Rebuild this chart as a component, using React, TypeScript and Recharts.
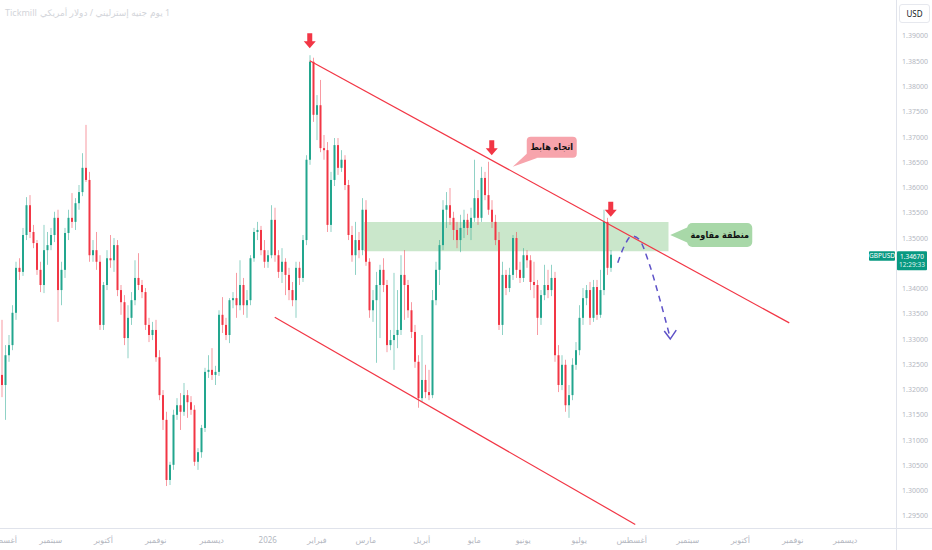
import React from 'react';
import { ComposedChart, Bar, Line, XAxis, YAxis, ReferenceLine, ReferenceArea, ReferenceDot } from 'recharts';

// daily GBPUSD candles
const opens = [
  1.3229, 1.3209, 1.3268, 1.3288, 1.3352, 1.3441, 1.3433, 1.3506, 1.3565, 1.3512,
  1.3490, 1.3437, 1.3407, 1.3476, 1.3486, 1.3506, 1.3540, 1.3397, 1.3437, 1.3510,
  1.3540, 1.3532, 1.3569, 1.3591, 1.3639, 1.3615, 1.3466, 1.3476, 1.3453, 1.3328,
  1.3407, 1.3460, 1.3456, 1.3486, 1.3397, 1.3373, 1.3302, 1.3342, 1.3377, 1.3421,
  1.3407, 1.3393, 1.3328, 1.3308, 1.3318, 1.3264, 1.3189, 1.3140, 1.3021, 1.3051,
  1.3150, 1.3169, 1.3156, 1.3189, 1.3175, 1.3160, 1.3057, 1.3076, 1.3124, 1.3235,
  1.3239, 1.3229, 1.3235, 1.3348, 1.3328, 1.3308, 1.3377, 1.3381, 1.3367, 1.3407,
  1.3367, 1.3377, 1.3460, 1.3512, 1.3516, 1.3476, 1.3453, 1.3466, 1.3536, 1.3466,
  1.3433, 1.3453, 1.3427, 1.3397, 1.3377, 1.3441, 1.3421, 1.3496, 1.3655, 1.3849,
  1.3744, 1.3763, 1.3678, 1.3674, 1.3526, 1.3615, 1.3684, 1.3639, 1.3655, 1.3605,
  1.3506, 1.3466, 1.3496, 1.3476, 1.3556, 1.3453, 1.3357, 1.3377, 1.3407, 1.3437,
  1.3407, 1.3288, 1.3298, 1.3308, 1.3318, 1.3427, 1.3407, 1.3357, 1.3314, 1.3255,
  1.3183, 1.3219, 1.3195, 1.3189, 1.3377, 1.3437, 1.3486, 1.3556, 1.3565, 1.3540,
  1.3516, 1.3496, 1.3520, 1.3536, 1.3520, 1.3540, 1.3579, 1.3540, 1.3619, 1.3585,
  1.3556, 1.3532, 1.3496, 1.3328, 1.3427, 1.3401, 1.3427, 1.3500, 1.3437, 1.3421,
  1.3466, 1.3456, 1.3413, 1.3407, 1.3342, 1.3387, 1.3407, 1.3397, 1.3421, 1.3268,
  1.3209, 1.3249, 1.3169, 1.3189, 1.3249, 1.3278, 1.3342, 1.3381, 1.3397, 1.3342,
  1.3403, 1.3348, 1.3397, 1.3532, 1.3441,
];
const highs = [
  1.3338, 1.3288, 1.3308, 1.3367, 1.3453, 1.3460, 1.3520, 1.3581, 1.3585, 1.3526,
  1.3496, 1.3453, 1.3526, 1.3512, 1.3520, 1.3552, 1.3556, 1.3453, 1.3520, 1.3556,
  1.3589, 1.3579, 1.3605, 1.3668, 1.3724, 1.3631, 1.3496, 1.3512, 1.3466, 1.3413,
  1.3476, 1.3506, 1.3500, 1.3496, 1.3407, 1.3387, 1.3367, 1.3393, 1.3456, 1.3470,
  1.3417, 1.3401, 1.3342, 1.3334, 1.3338, 1.3278, 1.3199, 1.3156, 1.3057, 1.3160,
  1.3183, 1.3193, 1.3213, 1.3199, 1.3187, 1.3169, 1.3084, 1.3130, 1.3243, 1.3268,
  1.3282, 1.3247, 1.3357, 1.3383, 1.3342, 1.3381, 1.3393, 1.3431, 1.3456, 1.3421,
  1.3397, 1.3466, 1.3520, 1.3532, 1.3524, 1.3496, 1.3476, 1.3565, 1.3560, 1.3476,
  1.3480, 1.3460, 1.3441, 1.3413, 1.3453, 1.3453, 1.3506, 1.3664, 1.3862, 1.3857,
  1.3783, 1.3813, 1.3704, 1.3690, 1.3631, 1.3698, 1.3698, 1.3674, 1.3664, 1.3615,
  1.3524, 1.3532, 1.3512, 1.3579, 1.3575, 1.3460, 1.3397, 1.3433, 1.3447, 1.3460,
  1.3417, 1.3318, 1.3431, 1.3397, 1.3466, 1.3476, 1.3417, 1.3373, 1.3328, 1.3268,
  1.3308, 1.3249, 1.3239, 1.3397, 1.3453, 1.3496, 1.3575, 1.3591, 1.3599, 1.3552,
  1.3532, 1.3546, 1.3556, 1.3548, 1.3560, 1.3655, 1.3595, 1.3641, 1.3631, 1.3651,
  1.3575, 1.3546, 1.3512, 1.3453, 1.3437, 1.3441, 1.3506, 1.3512, 1.3453, 1.3480,
  1.3476, 1.3466, 1.3453, 1.3417, 1.3397, 1.3447, 1.3437, 1.3447, 1.3433, 1.3288,
  1.3268, 1.3259, 1.3209, 1.3262, 1.3294, 1.3367, 1.3401, 1.3407, 1.3413, 1.3417,
  1.3417, 1.3437, 1.3556, 1.3540, 1.3476,
];
const lows = [
  1.3185, 1.3140, 1.3255, 1.3278, 1.3338, 1.3417, 1.3425, 1.3496, 1.3500, 1.3480,
  1.3427, 1.3393, 1.3391, 1.3447, 1.3476, 1.3492, 1.3334, 1.3367, 1.3421, 1.3496,
  1.3520, 1.3516, 1.3556, 1.3583, 1.3611, 1.3453, 1.3453, 1.3437, 1.3318, 1.3318,
  1.3397, 1.3441, 1.3433, 1.3385, 1.3348, 1.3288, 1.3262, 1.3328, 1.3367, 1.3397,
  1.3381, 1.3318, 1.3294, 1.3298, 1.3255, 1.3179, 1.3120, 1.3009, 1.3011, 1.3041,
  1.3140, 1.3120, 1.3148, 1.3144, 1.3150, 1.3049, 1.3041, 1.3065, 1.3116, 1.3223,
  1.3219, 1.3209, 1.3227, 1.3312, 1.3298, 1.3292, 1.3361, 1.3342, 1.3357, 1.3348,
  1.3342, 1.3367, 1.3453, 1.3496, 1.3466, 1.3441, 1.3441, 1.3460, 1.3453, 1.3421,
  1.3411, 1.3387, 1.3377, 1.3365, 1.3342, 1.3407, 1.3413, 1.3486, 1.3645, 1.3730,
  1.3694, 1.3670, 1.3655, 1.3512, 1.3512, 1.3603, 1.3625, 1.3631, 1.3595, 1.3496,
  1.3453, 1.3427, 1.3460, 1.3466, 1.3445, 1.3342, 1.3334, 1.3253, 1.3302, 1.3393,
  1.3274, 1.3278, 1.3239, 1.3282, 1.3308, 1.3338, 1.3342, 1.3302, 1.3243, 1.3164,
  1.3175, 1.3183, 1.3179, 1.3183, 1.3367, 1.3407, 1.3476, 1.3520, 1.3526, 1.3496,
  1.3480, 1.3472, 1.3500, 1.3506, 1.3496, 1.3532, 1.3526, 1.3532, 1.3575, 1.3546,
  1.3520, 1.3486, 1.3318, 1.3308, 1.3387, 1.3393, 1.3417, 1.3421, 1.3411, 1.3413,
  1.3441, 1.3397, 1.3381, 1.3308, 1.3328, 1.3377, 1.3381, 1.3385, 1.3255, 1.3195,
  1.3199, 1.3156, 1.3144, 1.3179, 1.3239, 1.3268, 1.3328, 1.3367, 1.3328, 1.3334,
  1.3338, 1.3342, 1.3387, 1.3427, 1.3433,
];
const closes = [
  1.3209, 1.3268, 1.3288, 1.3352, 1.3441, 1.3433, 1.3506, 1.3565, 1.3512, 1.3490,
  1.3437, 1.3407, 1.3476, 1.3486, 1.3506, 1.3540, 1.3397, 1.3437, 1.3510, 1.3540,
  1.3532, 1.3569, 1.3591, 1.3639, 1.3615, 1.3466, 1.3476, 1.3453, 1.3328, 1.3407,
  1.3460, 1.3456, 1.3486, 1.3397, 1.3373, 1.3302, 1.3342, 1.3377, 1.3421, 1.3407,
  1.3393, 1.3328, 1.3308, 1.3318, 1.3264, 1.3189, 1.3140, 1.3021, 1.3051, 1.3150,
  1.3169, 1.3156, 1.3189, 1.3175, 1.3160, 1.3057, 1.3076, 1.3124, 1.3235, 1.3239,
  1.3229, 1.3235, 1.3348, 1.3328, 1.3308, 1.3377, 1.3381, 1.3367, 1.3407, 1.3367,
  1.3377, 1.3460, 1.3512, 1.3516, 1.3476, 1.3453, 1.3466, 1.3536, 1.3466, 1.3433,
  1.3453, 1.3427, 1.3397, 1.3377, 1.3441, 1.3421, 1.3496, 1.3655, 1.3849, 1.3744,
  1.3763, 1.3678, 1.3674, 1.3526, 1.3615, 1.3684, 1.3639, 1.3655, 1.3605, 1.3506,
  1.3466, 1.3496, 1.3476, 1.3556, 1.3453, 1.3357, 1.3377, 1.3407, 1.3437, 1.3407,
  1.3288, 1.3298, 1.3308, 1.3318, 1.3427, 1.3407, 1.3357, 1.3314, 1.3255, 1.3183,
  1.3219, 1.3195, 1.3189, 1.3377, 1.3437, 1.3486, 1.3556, 1.3565, 1.3540, 1.3516,
  1.3496, 1.3520, 1.3536, 1.3520, 1.3540, 1.3579, 1.3540, 1.3619, 1.3585, 1.3556,
  1.3532, 1.3496, 1.3328, 1.3427, 1.3401, 1.3427, 1.3500, 1.3437, 1.3421, 1.3466,
  1.3456, 1.3413, 1.3407, 1.3342, 1.3387, 1.3407, 1.3397, 1.3421, 1.3268, 1.3209,
  1.3249, 1.3169, 1.3189, 1.3249, 1.3278, 1.3342, 1.3381, 1.3397, 1.3342, 1.3403,
  1.3348, 1.3397, 1.3532, 1.3441, 1.3467,
];

// time slots on the axis (candles + empty future to the right edge)
const slotCount = 256;
const monthTickIndex = [0, 14, 29, 44, 60, 76, 90, 104, 120, 135, 149, 165, 180, 196, 211, 226, 241];
const monthLabels = [
  'أغسطس', 'سبتمبر', 'أكتوبر', 'نوفمبر', 'ديسمبر', '2026', 'فبراير', 'مارس', 'أبريل',
  'مايو', 'يونيو', 'يوليو', 'أغسطس', 'سبتمبر', 'أكتوبر', 'نوفمبر', 'ديسمبر',
];
// 1.345 sits under the live price tag, so it is not drawn
const priceTicks = [
  1.295, 1.3, 1.305, 1.31, 1.315, 1.32, 1.325, 1.33, 1.335, 1.34,
  1.35, 1.355, 1.36, 1.365, 1.37, 1.375, 1.38, 1.385, 1.39,
];

// drawings
const projIndex = [176, 178, 180, 182, 185, 188, 191];
const projPrice = [1.3451, 1.3486, 1.3504, 1.3498, 1.3449, 1.3379, 1.3302];
const upperTrend = [{ x: 88, y: 1.3851 }, { x: 225, y: 1.3332 }];
const lowerTrend = [{ x: 78, y: 1.3343 }, { x: 181, y: 1.2933 }];
const zone = { from: 104, to: 190, low: 1.3474, high: 1.3532 };
const arrowIndex = [88, 140, 174];
const arrowPrice = [1.3876, 1.3664, 1.3542];
const trendNote = { x: 146, y: 1.3641 };
const zoneNote = { x: 191, y: 1.3506 };
const lastPrice = 1.3467;

const UP = '#22a68e';
const DOWN = '#f23645';
const AXIS_TEXT = '#b4b7bf';
const FONT = '"Noto Sans", "DejaVu Sans", sans-serif';
const NOTE_FONT = '"DejaVu Sans Condensed", "DejaVu Sans", sans-serif';

const rows = Array.from({ length: slotCount }, (_, i) => {
  const has = i < closes.length;
  const k = projIndex.indexOf(i);
  return {
    i,
    o: has ? opens[i] : null,
    h: has ? highs[i] : null,
    l: has ? lows[i] : null,
    c: has ? closes[i] : null,
    range: has ? [lows[i], highs[i]] : null,
    proj: k >= 0 ? projPrice[k] : null,
  };
});

const Candle = (props: any) => {
  const { x, y, width, height, payload } = props;
  if (!payload || payload.o == null || y == null) return null;
  const top = Math.min(y, y + height);
  const span = Math.abs(height);
  const { o, h, l, c } = payload;
  const toPx = (v: number) => (h === l ? top : top + ((h - v) / (h - l)) * span);
  const color = c >= o ? UP : DOWN;
  const yo = toPx(o);
  const yc = toPx(c);
  const cx = x + width / 2;
  return (
    <g>
      <line x1={cx} x2={cx} y1={top} y2={top + span} stroke={color} strokeOpacity={0.5} strokeWidth={1} />
      <rect x={x} y={Math.min(yo, yc)} width={width} height={Math.max(1, Math.abs(yo - yc))} fill={color} />
    </g>
  );
};

const DownArrow = (props: any) => {
  const { cx, cy } = props;
  const pts = [
    [cx, cy], [cx - 6, cy - 7], [cx - 2.5, cy - 7], [cx - 2.5, cy - 15],
    [cx + 2.5, cy - 15], [cx + 2.5, cy - 7], [cx + 6, cy - 7],
  ].map((p) => p.join(',')).join(' ');
  return <polygon points={pts} fill={DOWN} />;
};

const ProjHead = (props: any) => {
  const { cx, cy } = props;
  return (
    <polyline
      points={`${cx - 6},${cy - 7} ${cx},${cy + 1} ${cx + 6},${cy - 8}`}
      fill="none" stroke="#5e52c8" strokeWidth={1.5}
    />
  );
};

const TrendNote = (props: any) => {
  const { cx, cy } = props;
  return (
    <g>
      <polygon points={`${cx},${cy} ${cx + 14},${cy - 13} ${cx + 25},${cy - 9}`} fill="#f7a4ac" />
      <rect x={cx + 14} y={cy - 30} width={50} height={21} rx={4} fill="#f7a4ac" />
      <text x={cx + 39} y={cy - 16.5} textAnchor="middle" fontSize={9} fontWeight="bold" fill="#111" fontFamily={NOTE_FONT}>
        اتجاه هابط
      </text>
    </g>
  );
};

const ZoneNote = (props: any) => {
  const { cx, cy } = props;
  return (
    <g>
      <polygon points={`${cx},${cy} ${cx + 18},${cy - 8} ${cx + 18},${cy + 8}`} fill="#a8d8a8" />
      <rect x={cx + 17} y={cy - 12} width={65} height={24} rx={5} fill="#a8d8a8" />
      <text x={cx + 49.5} y={cy + 3} textAnchor="middle" fontSize={9} fontWeight="bold" fill="#111" fontFamily={NOTE_FONT}>
        منطقة مقاومة
      </text>
    </g>
  );
};

const priceTag = (vb: any) => {
  if (!vb) return null;
  const right = vb.x + vb.width;
  const cy = vb.y;
  return (
    <g fontFamily={FONT}>
      <rect x={right - 27} y={cy - 3.5} width={26} height={9.5} rx={1} fill="#089981" />
      <text x={right - 14} y={cy + 3.6} textAnchor="middle" fontSize={6.5} fill="#fff">GBPUSD</text>
      <rect x={right + 1} y={cy - 3.5} width={30} height={19} rx={1} fill="#089981" />
      <text x={right + 16} y={cy + 3.8} textAnchor="middle" fontSize={6.5} fill="#fff">{lastPrice.toFixed(5)}</text>
      <text x={right + 16} y={cy + 12.5} textAnchor="middle" fontSize={6.5} fill="#dff3ee">12:29:33</text>
    </g>
  );
};

const titleStyle: React.CSSProperties = {
  position: 'absolute', top: 6, fontSize: 9, color: '#d3d5da', whiteSpace: 'nowrap',
};

export default function App() {
  return (
    <div style={{ position: 'absolute', left: 0, top: 0, width: 932, height: 550, background: '#fff', fontFamily: FONT }}>
      <ComposedChart width={932} height={550} data={rows} margin={{ top: 0, right: 0, bottom: 0, left: 0 }}>
        <XAxis
          dataKey="i"
          type="category"
          ticks={monthTickIndex}
          interval={0}
          tickFormatter={(v) => monthLabels[monthTickIndex.indexOf(v)] ?? ''}
          height={22}
          tickLine={false}
          axisLine={false}
          tickSize={4}
          tickMargin={5}
          tick={{ fontSize: 8, fill: AXIS_TEXT, fontFamily: FONT }}
        />
        <YAxis
          orientation="right"
          type="number"
          domain={[1.29259, 1.39713]}
          allowDataOverflow
          ticks={priceTicks}
          tickFormatter={(v) => v.toFixed(5)}
          width={36}
          tickLine={false}
          axisLine={false}
          tickSize={4}
          tick={{ fontSize: 7, fill: AXIS_TEXT, fontFamily: FONT }}
        />
        <Bar dataKey="range" barSize={2} shape={Candle} isAnimationActive={false} />
        <ReferenceArea
          x1={zone.from} x2={zone.to} y1={zone.low} y2={zone.high}
          fill="#66bb6a" fillOpacity={0.35} stroke="none" ifOverflow="visible"
        />
        <ReferenceLine segment={upperTrend} stroke={DOWN} strokeWidth={1.2} ifOverflow="visible" />
        <ReferenceLine segment={lowerTrend} stroke={DOWN} strokeWidth={1.2} ifOverflow="visible" />
        <Line
          dataKey="proj" type="monotone" stroke="#5e52c8" strokeWidth={1.5} strokeDasharray="6 5"
          dot={false} connectNulls isAnimationActive={false}
        />
        <ReferenceDot x={projIndex[projIndex.length - 1]} y={projPrice[projPrice.length - 1]} shape={ProjHead} ifOverflow="visible" />
        {arrowIndex.map((ix, k) => (
          <ReferenceDot key={ix} x={ix} y={arrowPrice[k]} shape={DownArrow} ifOverflow="visible" />
        ))}
        <ReferenceDot x={trendNote.x} y={trendNote.y} shape={TrendNote} ifOverflow="visible" />
        <ReferenceDot x={zoneNote.x} y={zoneNote.y} shape={ZoneNote} ifOverflow="visible" />
        <ReferenceLine y={lastPrice} stroke="none" ifOverflow="visible" label={(p: any) => priceTag(p.viewBox)} />
      </ComposedChart>
      {/* axis borders */}
      <div style={{ position: 'absolute', left: 0, top: 528, width: 932, height: 1, background: '#e0e3eb' }} />
      <div style={{ position: 'absolute', left: 896, top: 0, width: 1, height: 550, background: '#e0e3eb' }} />
      <div
        style={{
          position: 'absolute', left: 899, top: 4, width: 29, height: 17, border: '1px solid #e6e8ee',
          borderRadius: 3, fontSize: 8, color: '#131722', lineHeight: '17px', textAlign: 'center', background: '#fff',
        }}
      >
        USD
      </div>
      {/* faint symbol title, top left */}
      <div style={{ ...titleStyle, left: 5 }}>Tickmill</div>
      <div style={{ ...titleStyle, left: 40 }} dir="rtl">جنيه إسترليني / دولار أمريكي</div>
      <div style={{ ...titleStyle, left: 150 }} dir="rtl">1 يوم</div>
    </div>
  );
}
